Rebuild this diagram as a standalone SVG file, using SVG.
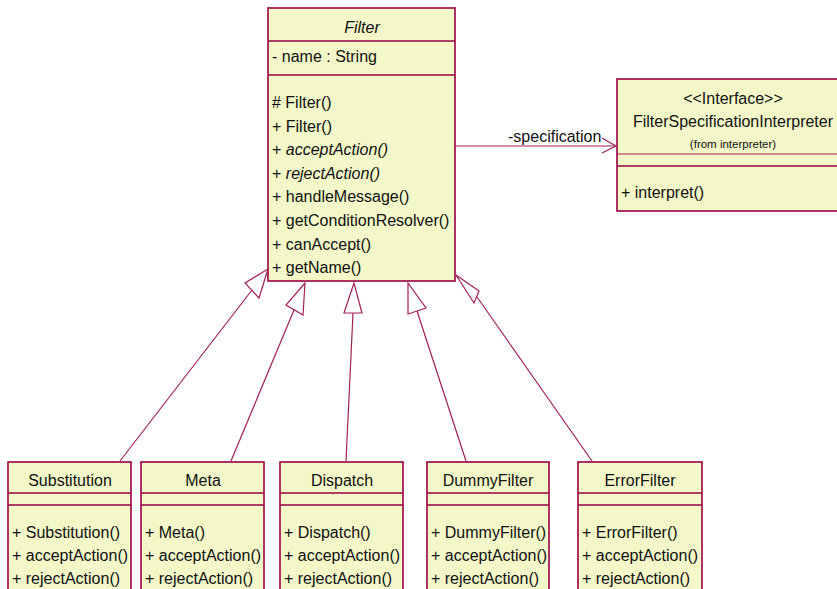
<svg xmlns="http://www.w3.org/2000/svg" width="837" height="589" viewBox="0 0 837 589">
<style>
text{font-family:"Liberation Sans",Arial,sans-serif;font-size:16px;fill:#111}
.box{fill:#F4F8C8;stroke:#990044;stroke-width:1.6}
.div{stroke:#990044;stroke-width:1.3}
.c{text-anchor:middle}
.i{font-style:italic}
.conn{stroke:#A0205A;stroke-width:1.2;fill:none}
.tri{stroke:#A0205A;stroke-width:1.2;fill:#fff}
</style>
<rect width="837" height="589" fill="#fff"/>
<g id="Filter">
<rect class="box" x="268" y="8" width="187" height="273"/>
<line class="div" x1="268" y1="41" x2="455" y2="41"/>
<line class="div" x1="268" y1="75" x2="455" y2="75"/>
<text class="c i" x="362" y="33">Filter</text>
<text x="272" y="62">- name : String</text>
<text x="272" y="108"># Filter()</text>
<text x="272" y="132">+ Filter()</text>
<text x="272" y="155">+ <tspan class="i">acceptAction()</tspan></text>
<text x="272" y="179">+ <tspan class="i">rejectAction()</tspan></text>
<text x="272" y="202">+ handleMessage()</text>
<text x="272" y="226">+ getConditionResolver()</text>
<text x="272" y="250">+ canAccept()</text>
<text x="272" y="273">+ getName()</text>
</g>
<g id="FilterSpecificationInterpreter">
<rect class="box" x="617" y="79" width="230" height="132"/>
<line class="div" x1="617" y1="154" x2="840" y2="154" stroke-opacity="0.6"/>
<line class="div" x1="617" y1="166" x2="840" y2="166"/>
<text class="c" x="733" y="104">&lt;&lt;Interface&gt;&gt;</text>
<text class="c" x="733" y="127">FilterSpecificationInterpreter</text>
<text class="c" x="733" y="148" style="font-size:11.5px">(from interpreter)</text>
<text x="621" y="198">+ interpret()</text>
</g>
<g id="Substitution">
<rect class="box" x="8" y="462" width="123" height="140"/>
<line class="div" x1="8" y1="493" x2="131" y2="493"/>
<line class="div" x1="8" y1="505" x2="131" y2="505"/>
<text class="c" x="70" y="486">Substitution</text>
<text x="12" y="538">+ Substitution()</text>
<text x="12" y="561">+ acceptAction()</text>
<text x="12" y="584">+ rejectAction()</text>
</g>
<g id="Meta">
<rect class="box" x="141" y="462" width="123" height="140"/>
<line class="div" x1="141" y1="493" x2="264" y2="493"/>
<line class="div" x1="141" y1="505" x2="264" y2="505"/>
<text class="c" x="203" y="486">Meta</text>
<text x="145" y="538">+ Meta()</text>
<text x="145" y="561">+ acceptAction()</text>
<text x="145" y="584">+ rejectAction()</text>
</g>
<g id="Dispatch">
<rect class="box" x="280" y="462" width="123" height="140"/>
<line class="div" x1="280" y1="493" x2="403" y2="493"/>
<line class="div" x1="280" y1="505" x2="403" y2="505"/>
<text class="c" x="342" y="486">Dispatch</text>
<text x="284" y="538">+ Dispatch()</text>
<text x="284" y="561">+ acceptAction()</text>
<text x="284" y="584">+ rejectAction()</text>
</g>
<g id="DummyFilter">
<rect class="box" x="427" y="462" width="122" height="140"/>
<line class="div" x1="427" y1="493" x2="549" y2="493"/>
<line class="div" x1="427" y1="505" x2="549" y2="505"/>
<text class="c" x="488" y="486">DummyFilter</text>
<text x="431" y="538">+ DummyFilter()</text>
<text x="431" y="561">+ acceptAction()</text>
<text x="431" y="584">+ rejectAction()</text>
</g>
<g id="ErrorFilter">
<rect class="box" x="578" y="462" width="124" height="140"/>
<line class="div" x1="578" y1="493" x2="702" y2="493"/>
<line class="div" x1="578" y1="505" x2="702" y2="505"/>
<text class="c" x="640" y="486">ErrorFilter</text>
<text x="582" y="538">+ ErrorFilter()</text>
<text x="582" y="561">+ acceptAction()</text>
<text x="582" y="584">+ rejectAction()</text>
</g>
<g id="connectors">
<line class="conn" x1="455" y1="146" x2="616" y2="146"/>
<polyline class="conn" points="602,138 616,146 602,153"/>
<text x="508" y="142">-specification</text>
<line class="conn" x1="252" y1="290" x2="120" y2="461"/>
<polygon class="tri" points="268,269 245,283 259,298"/>
<line class="conn" x1="294" y1="310" x2="231" y2="461"/>
<polygon class="tri" points="305,283 286,305 303,315"/>
<line class="conn" x1="353" y1="313" x2="346" y2="461"/>
<polygon class="tri" points="354,283 344,313 362,313"/>
<line class="conn" x1="417" y1="311" x2="466" y2="461"/>
<polygon class="tri" points="408,283 408,314 426,308"/>
<line class="conn" x1="477" y1="297" x2="592" y2="461"/>
<polygon class="tri" points="456,275 479,291 474,303"/>
</g>
</svg>
